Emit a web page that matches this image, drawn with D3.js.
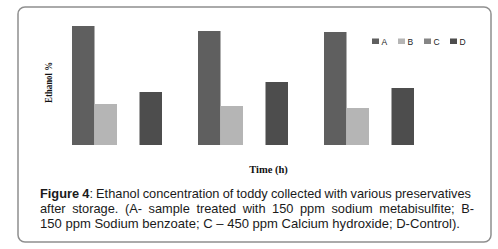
<!DOCTYPE html>
<html>
<head>
<meta charset="utf-8">
<script src="https://cdn.jsdelivr.net/npm/d3@7"></script>
<style>
  html, body { margin: 0; padding: 0; background: #fff; }
  svg { display: block; }
</style>
</head>
<body>
<script>
// ---- data ----
const groups = ["g1", "g2", "g3"];
const seriesNames = ["A", "B", "C", "D"];
const valuesA = [119, 114, 113];
const valuesB = [41, 39, 37];
const valuesC = [0, 0, 0];
const valuesD = [53, 63, 57];
const seriesColors = ["#5f5f5f", "#b5b5b5", "#858585", "#4d4d4d"];
const yLabel = "Ethanol %";
const xLabel = "Time (h)";
const captionLines = [
  [{t: "Figure 4", b: true}, {t: ": Ethanol concentration of toddy collected with various preservatives", b: false}],
  [{t: "after storage. (A- sample treated with 150 ppm sodium metabisulfite; B-", b: false}],
  [{t: "150 ppm Sodium benzoate; C \u2013 450 ppm Calcium hydroxide; D-Control).", b: false}]
];

const W = 498, H = 249;
const svg = d3.select("body").append("svg").attr("width", W).attr("height", H);

// frame
svg.append("rect")
  .attr("x", 18).attr("y", 7).attr("width", 473).attr("height", 235)
  .attr("rx", 7).attr("ry", 7)
  .attr("fill", "#fff").attr("stroke", "#8f8f8f").attr("stroke-width", 1.5);

const series = [valuesA, valuesB, valuesC, valuesD];
const data = groups.map((g, i) => ({
  g, vals: seriesNames.map((s, j) => ({ s, v: series[j][i], c: seriesColors[j] }))
}));

const x0 = d3.scaleBand().domain(groups).range([54, 432]).paddingInner(36 / 126).paddingOuter(18 / 126);
const x1 = d3.scaleBand().domain(seriesNames).range([0, x0.bandwidth()]);
const y = d3.scaleLinear().domain([0, 120]).range([145, 25]);

const gs = svg.append("g").selectAll("g").data(data).join("g")
  .attr("transform", d => `translate(${x0(d.g)},0)`);
gs.selectAll("rect").data(d => d.vals.filter(v => v.v > 0)).join("rect")
  .attr("x", d => x1(d.s))
  .attr("width", x1.bandwidth())
  .attr("y", d => y(d.v))
  .attr("height", d => y(0) - y(d.v))
  .attr("fill", d => d.c);

// axis labels
svg.append("text")
  .attr("transform", "translate(52,82.5) rotate(-90)")
  .attr("text-anchor", "middle")
  .attr("font-family", "Liberation Serif, serif")
  .attr("font-weight", "bold")
  .attr("font-size", 11)
  .attr("textLength", 41).attr("lengthAdjust", "spacingAndGlyphs")
  .attr("fill", "#111")
  .text(yLabel);

svg.append("text")
  .attr("x", 268.5).attr("y", 172.5)
  .attr("text-anchor", "middle")
  .attr("font-family", "Liberation Serif, serif")
  .attr("font-weight", "bold")
  .attr("font-size", 10.5)
  .attr("fill", "#111")
  .text(xLabel);

// legend
const lg = svg.append("g").selectAll("g").data(seriesNames).join("g")
  .attr("transform", (d, i) => `translate(${372 + i * 26},38.5)`);
lg.append("rect").attr("x", 0).attr("y", 0).attr("width", 7).attr("height", 5.5)
  .attr("fill", (d, i) => seriesColors[i]);
lg.append("text").attr("x", 9.5).attr("y", 6)
  .attr("font-family", "Liberation Sans, Arial, sans-serif")
  .attr("font-size", 8.5).attr("fill", "#222")
  .text(d => d);

// caption
const capY = [197.5, 212.5, 227.5];
const capLen = [431, 434, 420];
const capSize = 12.8;
captionLines.forEach((parts, i) => {
  const t = svg.append("text")
    .attr("x", 40).attr("y", capY[i])
    .attr("font-family", "Liberation Sans, Arial, sans-serif")
    .attr("font-size", capSize)
    .attr("fill", "#1a1a1a");
  parts.forEach(p => {
    t.append("tspan").attr("font-weight", p.b ? "bold" : "normal").text(p.t);
  });
  const nat = t.node().getComputedTextLength();
  const spaces = parts.map(p => p.t).join("").split(" ").length - 1;
  if (i < 2) {
    t.attr("word-spacing", (capLen[i] - nat) / spaces);
  } else {
    t.attr("textLength", capLen[i]).attr("lengthAdjust", "spacingAndGlyphs");
  }
});
</script>
</body>
</html>
